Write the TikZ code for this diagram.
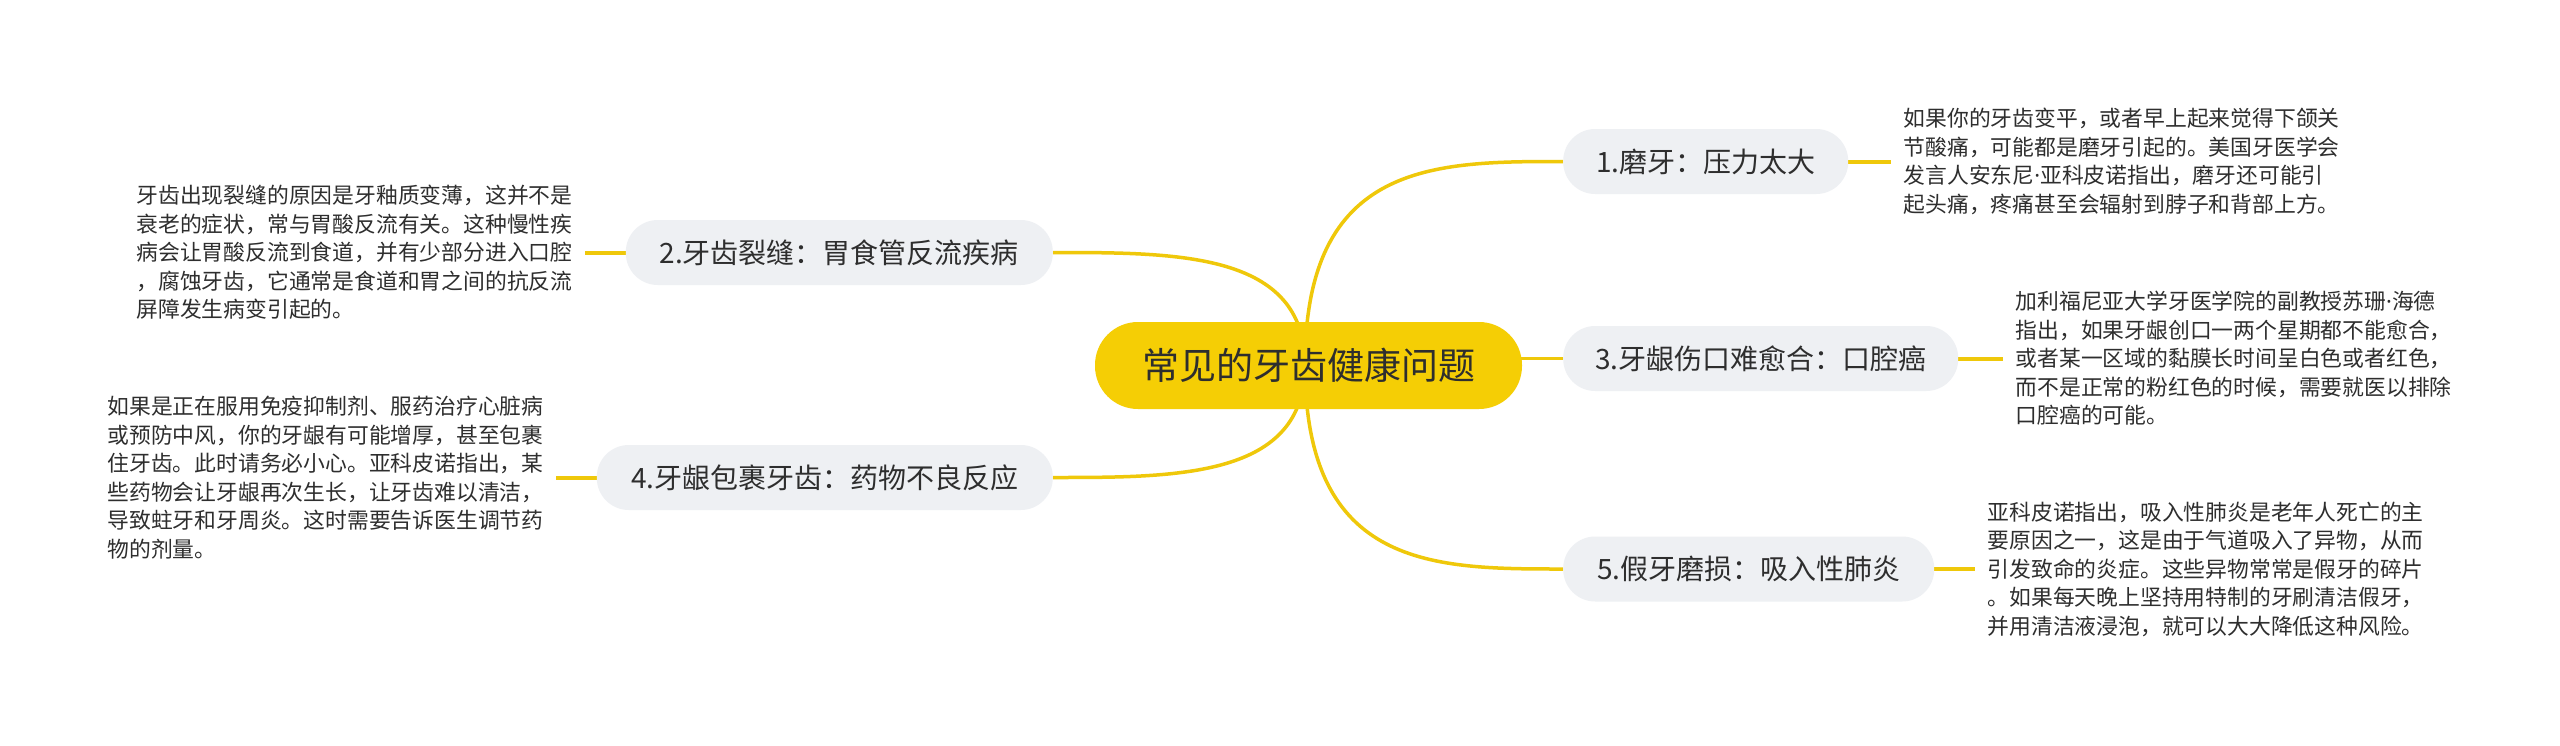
\documentclass[tikz,border=0pt]{standalone}
\usepackage{fontspec}
\setmainfont{Noto Sans CJK SC}
\newfontfamily\latinf{Noto Sans}
\newcommand{\mdot}{{\latinf ·}}
\usetikzlibrary{calc,backgrounds}
\definecolor{cyel}{HTML}{F5CE05}
\definecolor{lyel}{HTML}{EFC80A}
\definecolor{boxg}{HTML}{EEF0F3}
\definecolor{txt}{HTML}{2E2E2E}
\begin{document}
\begin{tikzpicture}[x=1pt,y=-1pt,
  central/.style={fill=cyel, rounded corners=43pt, minimum height=87pt, minimum width=427pt, inner sep=0pt, text=txt, font=\fontsize{37}{40}\selectfont},
  branch/.style={fill=boxg, rounded corners=32pt, minimum height=65pt, inner sep=0pt, text=txt, font=\fontsize{28}{32}\selectfont},
  desc/.style={inner sep=0pt, align=left, text=txt, font=\fontsize{21.8}{28.5}\selectfont},
  curve/.style={draw=lyel, line width=3.5pt},
  stub/.style={draw=lyel, line width=4pt, shorten >=12pt},
]
\useasboundingbox (0,0) rectangle (2560,745);

\node[central] (root) at (1308.5,365.5) {常见的牙齿健康问题};
\node[branch, minimum width=285pt, anchor=west] (b1) at (1563,161.5) {1.磨牙：压力太大};
\node[branch, minimum width=427pt, anchor=east] (b2) at (1053,252.5) {2.牙齿裂缝：胃食管反流疾病};
\node[branch, minimum width=395pt, anchor=west] (b3) at (1563,358.5) {3.牙龈伤口难愈合：口腔癌};
\node[branch, minimum width=456pt, anchor=east] (b4) at (1053,477.5) {4.牙龈包裹牙齿：药物不良反应};
\node[branch, minimum width=371pt, anchor=west] (b5) at (1563,569) {5.假牙磨损：吸入性肺炎};

\node[desc, anchor=west] (t1) at ($(b1.east)+(55,0)$) {如果你的牙齿变平，或者早上起来觉得下颌关\\节酸痛，可能都是磨牙引起的。美国牙医学会\\发言人安东尼\mdot 亚科皮诺指出，磨牙还可能引\\起头痛，疼痛甚至会辐射到脖子和背部上方。};
\node[desc, anchor=east] (t2) at ($(b2.west)+(-53,0)$) {牙齿出现裂缝的原因是牙釉质变薄，这并不是\\衰老的症状，常与胃酸反流有关。这种慢性疾\\病会让胃酸反流到食道，并有少部分进入口腔\\，腐蚀牙齿，它通常是食道和胃之间的抗反流\\屏障发生病变引起的。};
\node[desc, anchor=west] (t3) at ($(b3.east)+(57,0)$) {加利福尼亚大学牙医学院的副教授苏珊\mdot 海德\\指出，如果牙龈创口一两个星期都不能愈合，\\或者某一区域的黏膜长时间呈白色或者红色，\\而不是正常的粉红色的时候，需要就医以排除\\口腔癌的可能。};
\node[desc, anchor=east] (t4) at ($(b4.west)+(-53,0)$) {如果是正在服用免疫抑制剂、服药治疗心脏病\\或预防中风，你的牙龈有可能增厚，甚至包裹\\住牙齿。此时请务必小心。亚科皮诺指出，某\\些药物会让牙龈再次生长，让牙齿难以清洁，\\导致蛀牙和牙周炎。这时需要告诉医生调节药\\物的剂量。};
\node[desc, anchor=west] (t5) at ($(b5.east)+(53,0)$) {亚科皮诺指出，吸入性肺炎是老年人死亡的主\\要原因之一，这是由于气道吸入了异物，从而\\引发致命的炎症。这些异物常常是假牙的碎片\\。如果每天晚上坚持用特制的牙刷清洁假牙，\\并用清洁液浸泡，就可以大大降低这种风险。};

\coordinate (o) at (1305,365);
\begin{scope}[on background layer]
\fill[white] (0,0) rectangle (2560,745);
\draw[curve] (o) .. controls (o |- b1.west) and ($(o |- b1.west)!0.5!(b1.west)$) .. (b1.west);
\draw[curve] (o) .. controls (o |- b2.east) and ($(o |- b2.east)!0.5!(b2.east)$) .. (b2.east);
\draw[curve] (o) .. controls (o |- b4.east) and ($(o |- b4.east)!0.5!(b4.east)$) .. (b4.east);
\draw[curve] (o) .. controls (o |- b5.west) and ($(o |- b5.west)!0.5!(b5.west)$) .. (b5.west);
\draw[curve] (root.center |- b3.west) -- (b3.west);
\draw[stub] (b1.east) -- (t1.west);
\draw[stub] (b2.west) -- (t2.east);
\draw[stub] (b3.east) -- (t3.west);
\draw[stub] (b4.west) -- (t4.east);
\draw[stub] (b5.east) -- (t5.west);
\end{scope}
\end{tikzpicture}
\end{document}
